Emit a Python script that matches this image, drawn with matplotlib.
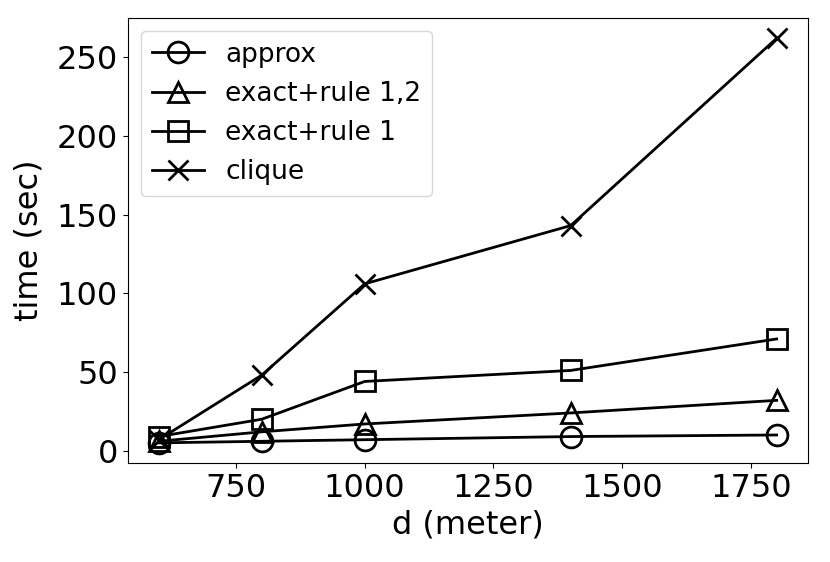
import matplotlib
matplotlib.use('Agg')
import matplotlib.pyplot as plt

# distance thresholds (meter)
d = [600, 800, 1000, 1400, 1800]

# running times (sec)
approx = [5, 6, 7, 9, 10]
exact_rule12 = [6, 12, 17, 24, 32]
exact_rule1 = [9, 20, 44, 51, 71]
clique = [7, 48, 106, 143, 262]

series = [
    ('approx', approx, 'o'),
    ('exact+rule 1,2', exact_rule12, '^'),
    ('exact+rule 1', exact_rule1, 's'),
    ('clique', clique, 'x'),
]

fig, ax = plt.subplots(figsize=(8.3, 5.62), dpi=100)
fig.subplots_adjust(left=0.154, right=0.973, top=0.968, bottom=0.176)

for label, vals, m in series:
    ax.plot(d, vals, color='black', marker=m, markersize=15, linewidth=2,
            markerfacecolor='none', markeredgewidth=2, label=label)

ax.set_xlabel('d (meter)', fontsize=23)
ax.set_ylabel('time (sec)', fontsize=23, labelpad=9)
ax.tick_params(labelsize=23)
ax.set_xticks([750, 1000, 1250, 1500, 1750])
ax.set_yticks([0, 50, 100, 150, 200, 250])
ax.legend(loc='upper left', fontsize=19)

plt.savefig('out.png')
